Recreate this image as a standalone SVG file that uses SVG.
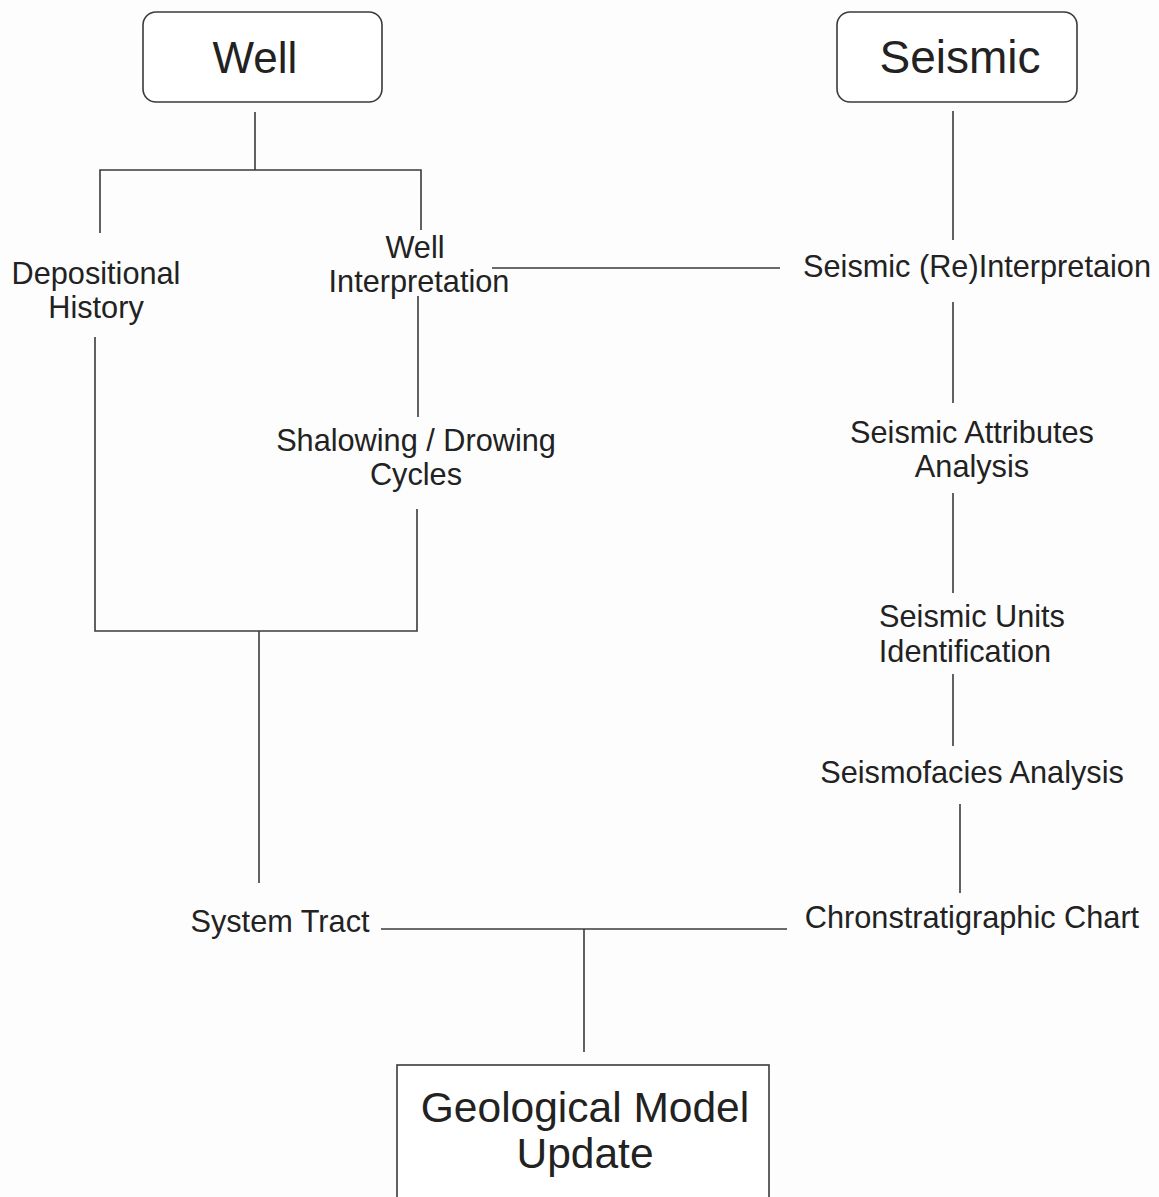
<svg xmlns="http://www.w3.org/2000/svg" width="1159" height="1197" viewBox="0 0 1159 1197">
<style>
.bg{fill:#fdfdfd}
.box{fill:#ffffff;stroke:#3a3a3a;stroke-width:1.6}
.ln{stroke:#3a3a3a;stroke-width:1.6;fill:none}
.t{font-family:"Liberation Sans",Arial,sans-serif;fill:#222;font-size:30.7px;text-anchor:middle}
.tl{font-family:"Liberation Sans",Arial,sans-serif;fill:#222;font-size:44px;text-anchor:middle}
</style>
<rect class="bg" x="0" y="0" width="1159" height="1197"/>
<g id="connectors">
<line class="ln" x1="255" y1="112" x2="255" y2="170"/>
<polyline class="ln" points="100,233 100,170 421,170 421,230"/>
<line class="ln" x1="492" y1="268" x2="780" y2="268"/>
<line class="ln" x1="418" y1="296" x2="418" y2="417"/>
<polyline class="ln" points="95,337 95,631 417,631 417,509"/>
<line class="ln" x1="259" y1="631" x2="259" y2="883"/>
<line class="ln" x1="953" y1="111" x2="953" y2="240"/>
<line class="ln" x1="953" y1="302" x2="953" y2="403"/>
<line class="ln" x1="953" y1="493" x2="953" y2="593"/>
<line class="ln" x1="953" y1="674" x2="953" y2="746"/>
<line class="ln" x1="960" y1="804" x2="960" y2="893"/>
<line class="ln" x1="381" y1="929" x2="787" y2="929"/>
<line class="ln" x1="584" y1="929" x2="584" y2="1052"/>
</g>
<g id="well">
<rect class="box" x="143" y="12" width="239" height="90" rx="13"/>
<text class="tl" x="255" y="73">Well</text>
</g>
<g id="seismic">
<rect class="box" x="837" y="12" width="240" height="90" rx="13"/>
<text class="tl" x="960" y="73" style="font-size:46px">Seismic</text>
</g>
<g id="depositional-history">
<text class="t" x="96" y="284">Depositional</text>
<text class="t" x="96" y="318">History</text>
</g>
<g id="well-interpretation">
<text class="t" x="415" y="258">Well</text>
<text class="t" x="419" y="292">Interpretation</text>
</g>
<g id="seismic-reinterpretation">
<text class="t" x="977" y="277">Seismic (Re)Interpretaion</text>
</g>
<g id="shalowing-drowing">
<text class="t" x="416" y="451">Shalowing / Drowing</text>
<text class="t" x="416" y="485">Cycles</text>
</g>
<g id="seismic-attributes">
<text class="t" x="972" y="443">Seismic Attributes</text>
<text class="t" x="972" y="477">Analysis</text>
</g>
<g id="seismic-units">
<text class="t" x="972" y="627">Seismic Units</text>
<text class="t" x="965" y="662">Identification</text>
</g>
<g id="seismofacies">
<text class="t" x="972" y="783">Seismofacies Analysis</text>
</g>
<g id="system-tract">
<text class="t" x="280" y="932">System Tract</text>
</g>
<g id="chronostratigraphic">
<text class="t" x="972" y="928">Chronstratigraphic Chart</text>
</g>
<g id="geological-model">
<rect class="box" x="397" y="1065" width="372" height="150"/>
<text class="tl" x="585" y="1122" style="font-size:42.5px">Geological Model</text>
<text class="tl" x="585" y="1168" style="font-size:42.5px">Update</text>
</g>
</svg>
